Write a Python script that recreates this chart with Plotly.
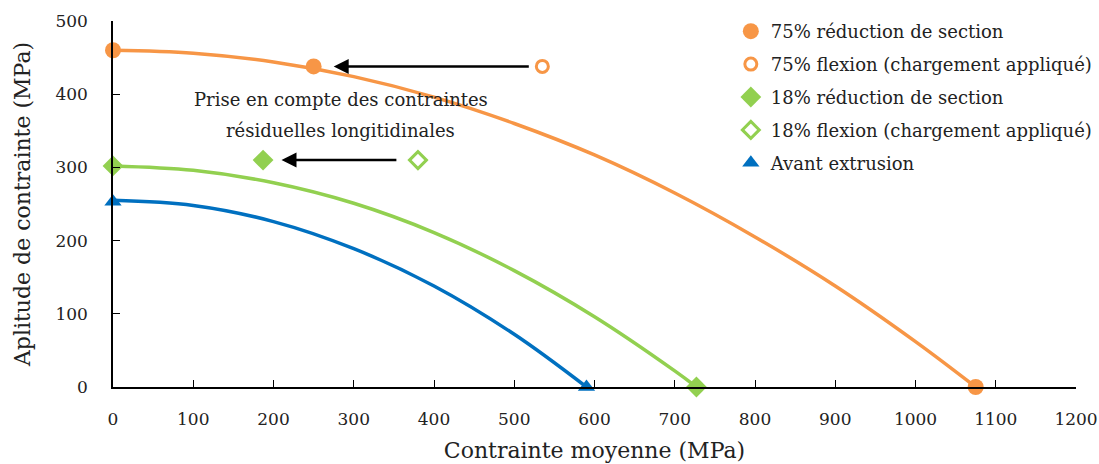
import plotly.graph_objects as go

# Curve readings (MPa)
orange_x = [0, 100, 200, 300, 400, 500, 600, 700, 800, 900, 1000, 1075]
orange_y = [460, 456, 444, 424, 396, 360, 317, 265, 205, 138, 62, 0]
green_x = [0, 100, 200, 300, 400, 500, 600, 700, 727]
green_y = [302, 296, 279, 251, 211, 159, 96, 22, 0]
blue_x = [0, 100, 200, 300, 400, 500, 590]
blue_y = [255, 248, 226, 189, 138, 72, 0]

# Marker points
o_red_x = [0, 250, 1075]
o_red_y = [460, 438, 0]
o_flex_x = [535]
o_flex_y = [438]
g_red_x = [0, 187, 727]
g_red_y = [302, 310, 0]
g_flex_x = [380]
g_flex_y = [310]
b_x = [0, 590]
b_y = [253, 0]

# Arrows: (tail_x, tail_y, head_x, head_y)
arrows = [(520, 438, 275, 438), (355, 310, 210, 310)]
note_lines = ["Prise en compte des contraintes", "résiduelles longitidinales"]
note_x = 284
note_y = [393, 351]

x_ticks = list(range(0, 1201, 100))
y_ticks = list(range(0, 501, 100))

ORANGE = "#F79646"
GREEN = "#92D050"
BLUE = "#0070C0"
FONT = "DejaVu Serif"
TXT = 18
TITLE = 22

fig = go.Figure()
fig.add_trace(go.Scatter(x=orange_x, y=orange_y, mode="lines", line=dict(color=ORANGE, width=3.5, shape="spline"),
                         showlegend=False, hoverinfo="skip", cliponaxis=False))
fig.add_trace(go.Scatter(x=green_x, y=green_y, mode="lines", line=dict(color=GREEN, width=3.5, shape="spline"),
                         showlegend=False, hoverinfo="skip", cliponaxis=False))
fig.add_trace(go.Scatter(x=blue_x, y=blue_y, mode="lines", line=dict(color=BLUE, width=3.5, shape="spline"),
                         showlegend=False, hoverinfo="skip", cliponaxis=False))

fig.add_trace(go.Scatter(x=o_red_x, y=o_red_y, mode="markers", name="75% réduction de section", legendgroup="a",
                         marker=dict(color=ORANGE, size=16, symbol="circle"), cliponaxis=False))
fig.add_trace(go.Scatter(x=o_flex_x, y=o_flex_y, mode="markers", name="75% flexion (chargement appliqué)", legendgroup="b",
                         marker=dict(color="white", size=12, symbol="circle", line=dict(color=ORANGE, width=3)),
                         cliponaxis=False))
fig.add_trace(go.Scatter(x=g_red_x, y=g_red_y, mode="markers", name="18% réduction de section", legendgroup="c",
                         marker=dict(color=GREEN, size=16, symbol="diamond"), cliponaxis=False))
fig.add_trace(go.Scatter(x=g_flex_x, y=g_flex_y, mode="markers", name="18% flexion (chargement appliqué)", legendgroup="d",
                         marker=dict(color="white", size=13, symbol="diamond", line=dict(color=GREEN, width=3)),
                         cliponaxis=False))
fig.add_trace(go.Scatter(x=b_x, y=b_y, mode="markers", name="Avant extrusion", legendgroup="e",
                         marker=dict(color=BLUE, size=15, symbol="triangle-up"), cliponaxis=False))

for tx, ty, hx, hy in arrows:
    fig.add_annotation(x=hx, y=hy, ax=tx, ay=ty, xref="x", yref="y", axref="x", ayref="y",
                       showarrow=True, arrowhead=2, arrowsize=1.2, arrowwidth=2.5, arrowcolor="black", text="")
for txt, yy in zip(note_lines, note_y):
    fig.add_annotation(x=note_x, y=yy, xref="x", yref="y", text=txt, showarrow=False,
                       font=dict(family=FONT, size=TXT, color="#222"))

fig.update_layout(
    width=1099, height=464,
    margin=dict(l=113, r=23, t=21, b=77, autoexpand=False),
    paper_bgcolor="white", plot_bgcolor="white",
    font=dict(family=FONT, size=TXT, color="#222"),
    legend=dict(xref="container", yref="container", x=0.665, y=0.972, xanchor="left", yanchor="top",
                bgcolor="rgba(0,0,0,0)", font=dict(family=FONT, size=TXT, color="#222"),
                itemwidth=30, tracegroupgap=6.5),
)
fig.update_xaxes(range=[0, 1200], tickvals=x_ticks, ticks="inside", ticklen=7, tickwidth=1.3, tickcolor="black",
                 showline=True, linecolor="black", linewidth=1.5, showgrid=False, zeroline=False, automargin=False,
                 tickfont=dict(family=FONT, size=17, color="#222"),
                 title=dict(text="Contrainte moyenne (MPa)", standoff=14, font=dict(family=FONT, size=TITLE)),
                 ticklabelstandoff=16)
fig.update_yaxes(range=[0, 500], tickvals=y_ticks, ticks="inside", ticklen=7, tickwidth=1.3, tickcolor="black",
                 showline=True, linecolor="black", linewidth=1.5, showgrid=False, zeroline=False, automargin=False,
                 tickfont=dict(family=FONT, size=17, color="#222"),
                 title=dict(text="Aplitude de contrainte (MPa)", standoff=19, font=dict(family=FONT, size=TITLE)),
                 ticklabelstandoff=20)

fig.write_html("out.html")
